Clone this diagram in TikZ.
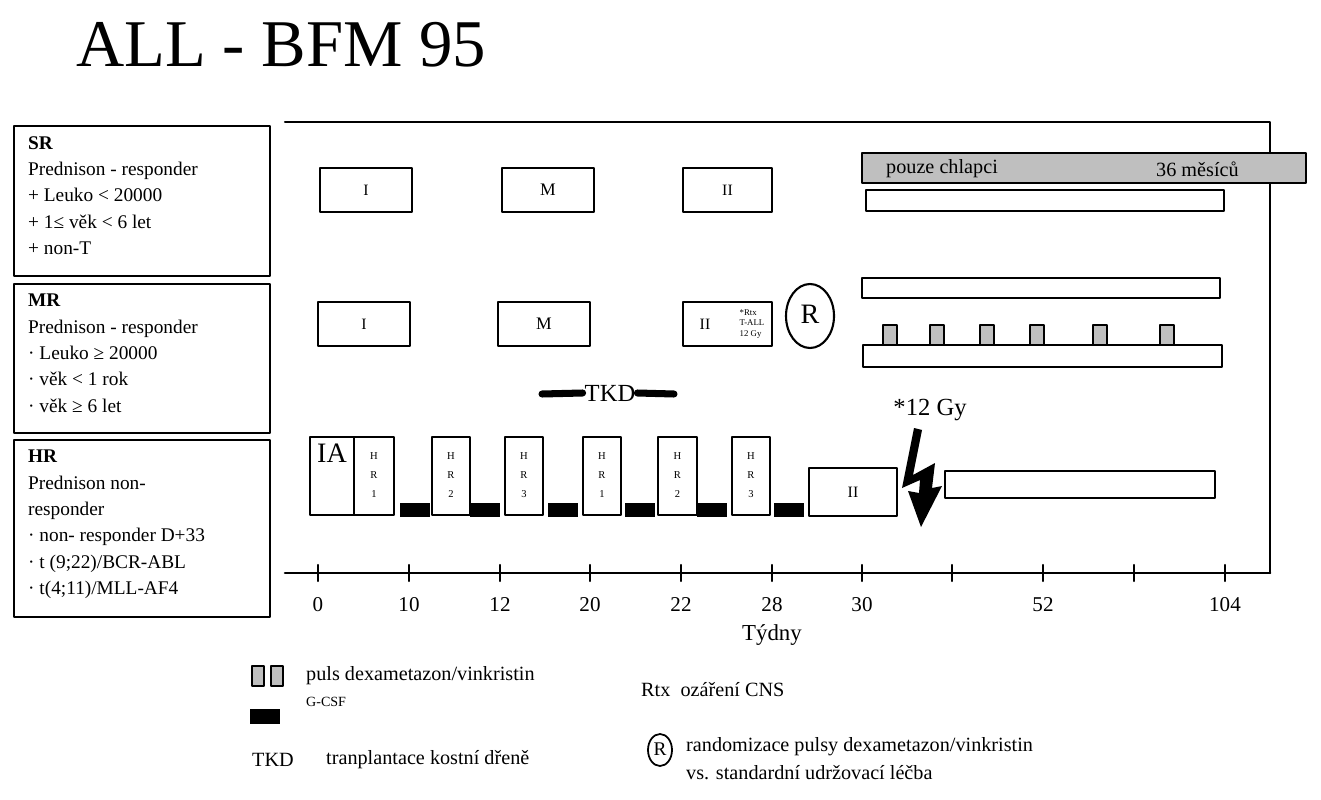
\documentclass[tikz,border=0pt]{standalone}
\usepackage{fontspec}
\setmainfont{Liberation Serif}
\usetikzlibrary{positioning}
\begin{document}
\begin{tikzpicture}[line cap=round,line join=round,x=0.02cm,y=-0.02cm,
  blk/.style={draw,line width=1.2pt,inner sep=0pt},
  lbl/.style={font=\fontsize{11.5}{13}\selectfont}]
\definecolor{pulsgray}{rgb}{0.75,0.75,0.75}
\useasboundingbox (0,0) rectangle (1321,800);
% title
\node[anchor=west,font=\fontsize{38}{40}\selectfont] (title) at (70,45) {ALL - BFM 95};
% criteria boxes
\draw[line width=1.5pt] (14,126) rectangle (270,276);
\draw[line width=1.5pt] (14,284) rectangle (270,433);
\draw[line width=1.5pt] (14,440) rectangle (270,617);
\node[anchor=north west,align=left,font=\fontsize{11}{15}\selectfont] (sr) at (22,130)
  {\textbf{SR}\\Prednison - responder\\+ Leuko < 20000\\+ 1≤ věk < 6 let\\+ non-T};
\node[anchor=north west,align=left,font=\fontsize{11}{15}\selectfont] (mr) at (22,288)
  {\textbf{MR}\\Prednison - responder\\· Leuko ≥ 20000\\· věk < 1 rok\\· věk ≥ 6 let};
\node[anchor=north west,align=left,font=\fontsize{11}{15}\selectfont] (hr) at (22,444)
  {\textbf{HR}\\Prednison non-\\responder\\· non- responder D+33\\· t (9;22)/BCR-ABL\\· t(4;11)/MLL-AF4};
% frame
\draw[line width=1.2pt] (285,122) -- (1270,122) -- (1270,573);
% axis
\draw[line width=1.5pt] (285,573) -- (1270,573);
\foreach \x/\t in {318/0,409/10,500/12,590/20,681/22,772/28,862/30,952/,1043/52,1134/,1225/104}
  {\draw[line width=1.2pt] (\x,565) -- (\x,581);
   \node[font=\fontsize{12}{14}\selectfont] at (\x,605) {\t};}
\node[font=\fontsize{13}{15}\selectfont] (tydny) at (772,635) {Týdny};
% SR row
\draw[blk] (320,168) rectangle (412,212) node[midway,font=\small] {I};
\draw[blk] (502,168) rectangle (594,212) node[midway,font=\normalsize] {M};
\draw[blk] (683,168) rectangle (772,212) node[midway,font=\small] {II};
\draw[blk,fill=pulsgray] (862,153) rectangle (1306,183);
\node[anchor=west,lbl] (boys) at (880,169) {pouze chlapci};
\node[anchor=west,lbl] (months) at (1150,169) {36 měsíců};
\draw[blk] (866,190) rectangle (1224,211);
% MR row
\draw[blk] (318,302) rectangle (410,346) node[midway,font=\small] {I};
\draw[blk] (498,302) rectangle (590,346) node[midway,font=\normalsize] {M};
\draw[blk] (683,302) rectangle (772,346);
\node[font=\small] (mrii) at (705,324) {II};
\node[align=left,font=\fontsize{5}{6}\selectfont,inner sep=0pt] (rtx) at (752,324) {*Rtx\\T-ALL\\12 Gy};
\draw[line width=1.2pt] (810,316) ellipse (24 and 32);
\node[font=\fontsize{16}{18}\selectfont] (rnd) at (810,314) {R};
\draw[blk] (862,278) rectangle (1220,298);
\foreach \x in {890,937,987,1037,1100,1167}
  \draw[blk,fill=pulsgray] (\x-7,325) rectangle (\x+7,345);
\draw[blk] (863,345) rectangle (1222,367);
% TKD
\node[font=\fontsize{14}{16}\selectfont,inner sep=1pt] (tkd) at (610,393) {TKD};
\draw[line width=4pt] (542,394) -- (tkd.west);
\draw[line width=4pt] (tkd.east) -- (674,394);
% HR row
\draw[blk] (310,437) rectangle (354,515);
\node[anchor=north,font=\fontsize{16}{18}\selectfont] (ia) at (332,438) {IA};
\foreach \a/\b/\n in {354/394/1,432/470/2,505/543/3,583/621/1,658/697/2,732/770/3}
  {\draw[blk] (\a,437) rectangle (\b,515);
   \node[align=center,font=\fontsize{6}{11}\selectfont] at ({(\a+\b)/2},475) {H\\R\\\n};}
\foreach \a in {400,470,548,625,697,774}
  \fill (\a,503) rectangle (\a+30,517);
\draw[blk] (809,468) rectangle (897,516) node[midway,font=\small] {II};
\draw[blk] (945,471) rectangle (1215,498);
% radiation bolt
\node[font=\fontsize{14}{16}\selectfont] (gy) at (930,410) {*12 Gy};
\fill (914,428) -- (922,430) -- (913,475) -- (935,463) -- (932,488) -- (942,486) -- (921,527)
  -- (908,491) -- (919,493) -- (920,480) -- (902,488) -- cycle;
% legend
\draw[blk,fill=pulsgray] (252,666) rectangle (264,686);
\draw[blk,fill=pulsgray] (271,666) rectangle (283,686);
\node[anchor=west,lbl] (lpuls) at (300,676) {puls dexametazon/vinkristin};
\fill (250,709) rectangle (280,724);
\node[anchor=west,font=\fontsize{8}{10}\selectfont] (lgcsf) at (300,702) {G-CSF};
\node[anchor=west,lbl] (ltkd) at (246,760) {TKD};
\node[anchor=west,lbl] (ltkdt) at (320,760) {tranplantace kostní dřeně};
\node[anchor=west,lbl] (lrtx) at (635,690) {Rtx\ \ ozáření CNS};
\draw[line width=1pt] (660,750) ellipse (12 and 16);
\node[font=\fontsize{11}{13}\selectfont] (lr) at (660,749) {R};
\node[anchor=west,lbl] (lrand) at (680,747) {randomizace pulsy dexametazon/vinkristin};
\node[anchor=west,lbl] (lvs) at (680,773) {vs. standardní udržovací léčba};
\end{tikzpicture}
\end{document}
